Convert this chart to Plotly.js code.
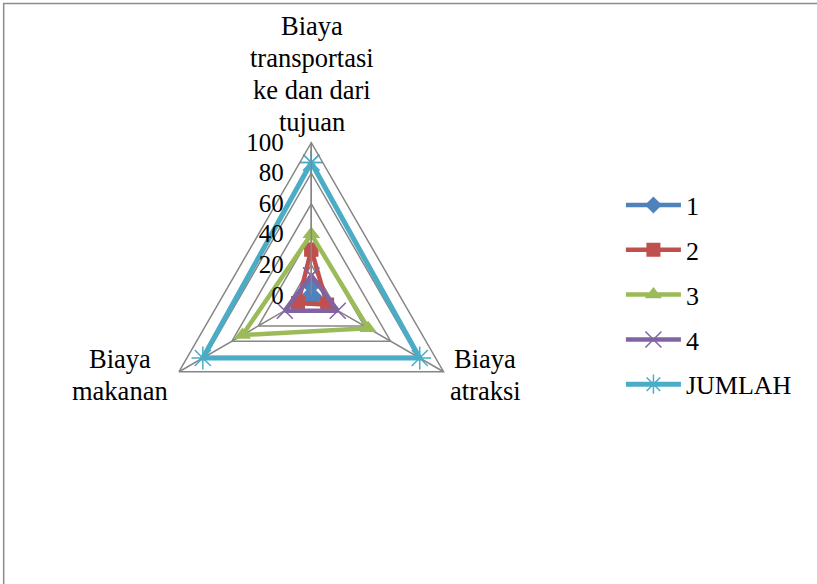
<!DOCTYPE html>
<html>
<head>
<meta charset="utf-8">
<script src="https://cdn.plot.ly/plotly-3.0.1.min.js"></script>
<style>html,body{margin:0;padding:0;background:#fff;}#chart{width:817px;height:584px;}</style>
</head>
<body>
<div id="chart"></div>
<script>
// category order: top, bottom-right, bottom-left (clockwise)
var categories = ["Biaya<br>transportasi<br>ke dan dari<br>tujuan", "Biaya<br>atraksi", "Biaya<br>makanan"];
var seriesNames = ["1", "2", "3", "4", "JUMLAH"];
var s1 = [6, 3, 3];
var s2 = [30, 12, 10];
var s3 = [40, 43, 52];
var s4 = [13, 20, 20];
var sJumlah = [87, 82, 82];
var tickVals = [0, 20, 40, 60, 80, 100];
var tickText = ["0", "20", "40", "60", "80", "100"];

var colors = ["#4F81BD", "#C0504D", "#9BBB59", "#8064A2", "#4BACC6"];
var symbols = ["diamond", "square", "triangle-up", "x-thin-open", "asterisk-open"];
var sizes = [13, 14, 15, 16, 19];
var allSeries = [s1, s2, s3, s4, sJumlah];
var serif = "Times New Roman, Liberation Serif, DejaVu Serif, serif";

var traces = allSeries.map(function (vals, i) {
  var isOpen = symbols[i].indexOf("open") >= 0;
  return {
    type: "scatterpolar",
    mode: "lines+markers",
    name: seriesNames[i],
    legendgroup: "g" + i,
    r: vals.concat([vals[0]]),
    theta: categories.concat([categories[0]]),
    line: {color: colors[i], width: i === 4 ? 5 : 4.5},
    marker: {
      symbol: symbols[i],
      size: sizes[i],
      color: colors[i],
      line: {color: colors[i], width: isOpen ? 1.5 : 0}
    }
  };
});

// category labels placed around the triangle (block centres in px, positions only)
var H = 584, W = 817, lineGap = 32;
var labelPos = [
  {x: 312, y: 74},
  {x: 485, y: 375},
  {x: 120, y: 375}
];
var annotations = [];
categories.forEach(function (c, i) {
  var lines = c.split("<br>");
  lines.forEach(function (ln, k) {
    var yc = labelPos[i].y + (k - (lines.length - 1) / 2) * lineGap;
    annotations.push({
      text: ln, xref: "paper", yref: "paper",
      x: labelPos[i].x / W, y: 1 - yc / H,
      xanchor: "center", yanchor: "middle", align: "center",
      showarrow: false,
      font: {family: serif, size: 26.5, color: "#000"}
    });
  });
});

var grey = "#868686";
var layout = {
  width: W,
  height: H,
  margin: {l: 0, r: 0, t: 0, b: 0},
  paper_bgcolor: "#fff",
  plot_bgcolor: "#fff",
  font: {family: serif, size: 25, color: "#000"},
  showlegend: true,
  legend: {
    x: 0.76, y: 0.689, xanchor: "left", yanchor: "top",
    font: {family: serif, size: 26, color: "#000"},
    traceorder: "grouped",
    tracegroupgap: 8,
    itemwidth: 55,
    bgcolor: "rgba(0,0,0,0)"
  },
  polar: {
    domain: {x: [0.194, 0.568], y: [0.2327, 0.7557]},
    gridshape: "linear",
    bgcolor: "#fff",
    radialaxis: {
      range: [0, 100],
      tickvals: tickVals,
      ticktext: tickText,
      angle: 90,
      side: "counterclockwise",
      showline: true,
      linecolor: grey,
      linewidth: 1.5,
      gridcolor: grey,
      gridwidth: 1.5,
      ticks: "outside",
      ticklen: 18,
      tickcolor: "rgba(0,0,0,0)",
      tickfont: {family: serif, size: 25, color: "#000"},
      tickangle: 90
    },
    angularaxis: {
      rotation: 90,
      direction: "clockwise",
      showline: true,
      linecolor: grey,
      linewidth: 1.5,
      gridcolor: grey,
      gridwidth: 1.5,
      ticks: "",
      showticklabels: false
    }
  },
  annotations: annotations,
  shapes: [{
    type: "rect", xref: "paper", yref: "paper",
    x0: 0.0045, x1: 1.05, y0: -0.05, y1: 0.994,
    line: {color: "#8c8c8c", width: 1.5}
  }]
};

Plotly.newPlot("chart", traces, layout, {displayModeBar: false, staticPlot: true});
</script>
</body>
</html>
